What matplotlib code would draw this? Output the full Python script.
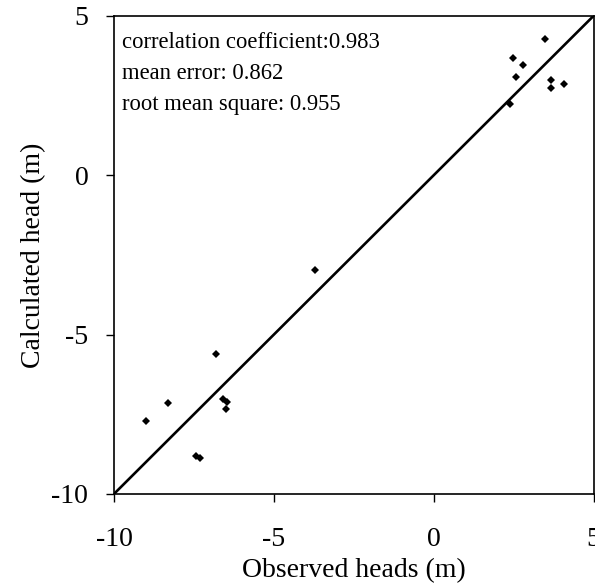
import matplotlib.pyplot as plt
import numpy as np

plt.rc("font", family="Liberation Serif")
plt.rc("axes", unicode_minus=False)

# observed vs calculated heads (m)
observed = [3.49, 2.48, 2.79, 2.58, 3.68, 3.68, 4.09, 2.40,
            -3.72,
            -6.81, -8.30, -9.01, -6.60, -6.48, -6.51, -7.42, -7.31]
calculated = [4.26, 3.68, 3.45, 3.08, 3.00, 2.73, 2.87, 2.23,
              -2.98,
              -5.62, -7.14, -7.70, -7.03, -7.12, -7.35, -8.80, -8.88]
one_to_one = [-10, 5]
stats = ['correlation coefficient:0.983',
         'mean error: 0.862',
         'root mean square: 0.955']
ticks = [-10, -5, 0, 5]

fig = plt.figure(figsize=(5.95, 5.88), dpi=100)
ax = fig.add_axes([0.1916, 0.16, 0.806, 0.813])

ax.plot(one_to_one, one_to_one, color='black', lw=1.9)
ax.plot(observed, calculated, 'D', color='black', ms=4, mew=0)

ax.set_xlim(-10, 5)
ax.set_ylim(-10, 5)
ax.set_xticks(ticks)
ax.set_yticks(ticks)
ax.tick_params(labelsize=20, length=6, width=1, direction='out')
ax.tick_params(axis='x', pad=18)
ax.tick_params(axis='y', pad=12.5)
for s in ax.spines.values():
    s.set_linewidth(1.2)

ax.set_xlabel('Observed heads (m)', fontsize=20, labelpad=4)
ax.set_ylabel('Calculated head (m)', fontsize=20, labelpad=4)

for i, t in enumerate(stats):
    ax.text(-9.74, 3.98 - i * 0.96, t, fontsize=16.3, va='baseline', ha='left')

fig.savefig('out.png', dpi=100)
